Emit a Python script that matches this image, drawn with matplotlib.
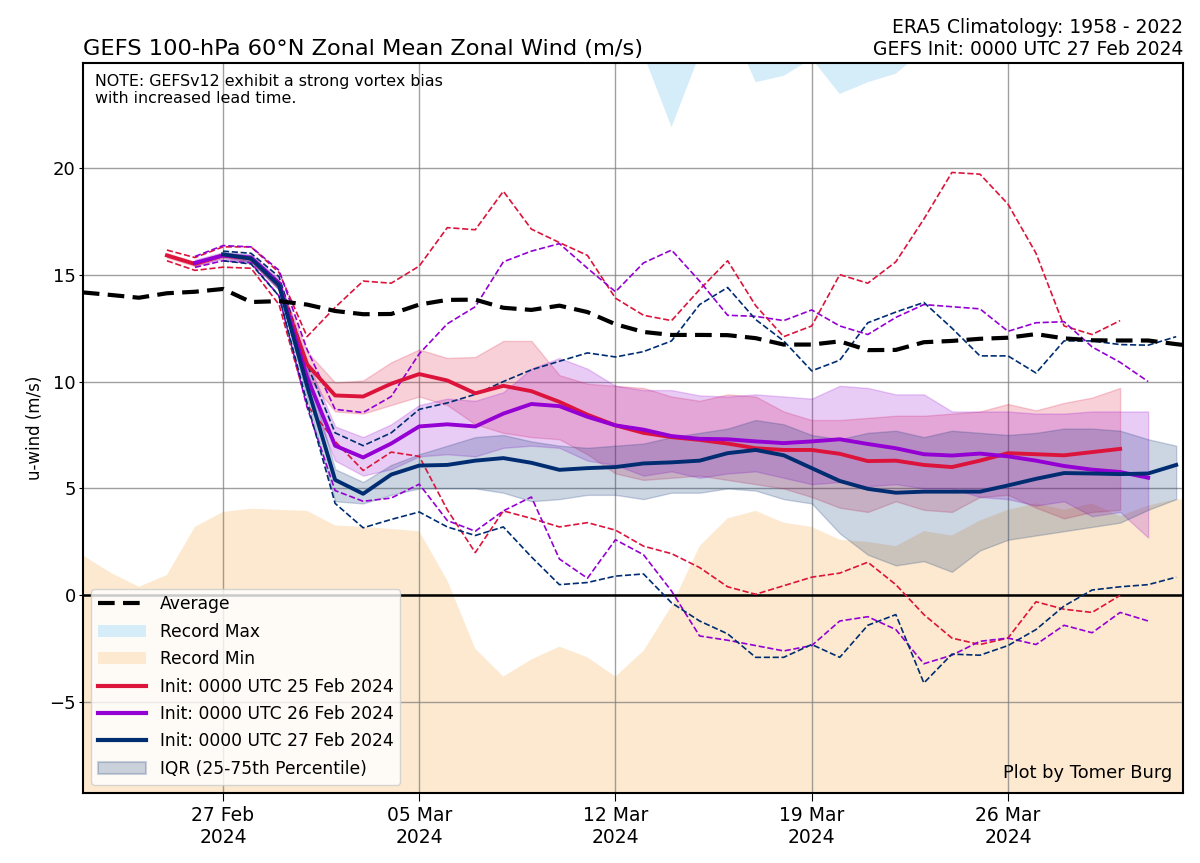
import matplotlib
matplotlib.use("Agg")
import matplotlib.pyplot as plt
import matplotlib.dates as mdates
from matplotlib.lines import Line2D
from matplotlib.patches import Patch
import pandas as pd

# ---- climatology (daily, 22 Feb - 02 Apr) ----
clim_start = "2024-02-22"
clim_avg = [14.17, 14.05, 13.92, 14.13, 14.2, 14.33, 13.72, 13.76,
            13.6, 13.3, 13.15, 13.16, 13.6, 13.82, 13.83, 13.45, 13.35, 13.55,
            13.25, 12.68, 12.32, 12.18, 12.18, 12.17, 12.03, 11.73, 11.73, 11.88,
            11.47, 11.48, 11.84, 11.9, 12.0, 12.05, 12.22, 12.02, 11.93, 11.92,
            11.92, 11.75, 11.6]
rec_min = [1.87, 1.05, 0.4, 0.95, 3.2, 3.9, 4.05, 4.0,
           3.95, 3.27, 3.2, 3.1, 3.0, 0.7, -2.5, -3.8, -3.0, -2.4,
           -2.9, -3.8, -2.6, -0.5, 2.3, 3.6, 3.95, 3.4, 3.2, 2.6,
           2.5, 2.3, 3.0, 2.8, 3.5, 4.0, 4.3, 4.0, 4.3, 3.7,
           4.2, 4.5, 4.4]
rec_max = [28, 28, 28, 28, 28, 28, 28, 28,
           28, 28, 28, 28, 28, 28, 28, 28, 28, 28,
           28, 28, 25.3, 21.9, 25.3, 27, 24.0, 24.3, 25.1, 23.45,
           24.0, 24.4, 25.5, 28, 28, 28, 28, 28, 28, 28,
           28, 28, 28]

# ---- GEFS forecasts (daily, 35 days from init) ----
init_25 = "2024-02-25"
mean_25 = [15.9, 15.5, 15.9, 15.75, 14.5, 10.8, 9.35, 9.3, 9.9, 10.35, 10.05, 9.45,
           9.8, 9.55, 9.05, 8.45, 7.95, 7.6, 7.4, 7.27, 7.1, 6.88, 6.8, 6.8, 6.62,
           6.28, 6.3, 6.1, 6.0, 6.3, 6.65, 6.6, 6.55, 6.7, 6.85]
q75_25 = [16.0, 15.6, 16.0, 15.85, 14.7, 11.4, 9.95, 10.05, 10.9, 11.5, 11.1, 11.15,
          11.9, 11.9, 10.3, 9.9, 9.8, 9.7, 9.3, 9.1, 9.4, 9.3, 8.6, 8.2, 8.2,
          8.3, 8.4, 8.4, 8.5, 8.6, 8.95, 8.65, 9.0, 9.25, 9.7]
q25_25 = [15.8, 15.4, 15.8, 15.6, 14.3, 10.2, 8.6, 8.5, 8.9, 9.3, 8.9, 8.0,
          7.6, 7.4, 7.3, 6.6, 5.7, 5.4, 5.5, 5.6, 5.4, 5.2, 5.0, 4.6, 4.1,
          3.9, 4.4, 4.0, 3.9, 4.6, 4.7, 4.1, 3.6, 3.9, 4.0]
max_25 = [16.15, 15.8, 16.3, 16.3, 15.1, 12.1, 13.47, 14.7, 14.6, 15.4, 17.2, 17.1,
          18.9, 17.13, 16.5, 15.9, 13.9, 13.1, 12.85, 14.3, 15.65, 13.55, 12.1, 12.6, 15.0,
          14.6, 15.6, 17.6, 19.78, 19.7, 18.3, 16.0, 12.6, 12.2, 12.85]
min_25 = [15.65, 15.2, 15.35, 15.3, 13.6, 8.9, 7.2, 5.84, 6.7, 6.5, 4.0, 2.0,
          3.95, 3.6, 3.2, 3.4, 3.05, 2.3, 1.95, 1.3, 0.4, 0.05, 0.45, 0.85, 1.04,
          1.55, 0.5, -0.9, -2.0, -2.3, -2.0, -0.3, -0.65, -0.8, 0.0]

init_26 = "2024-02-26"
mean_26 = [15.55, 15.9, 15.8, 14.6, 10.2, 7.0, 6.45, 7.1, 7.9, 8.0, 7.9, 8.5,
           8.95, 8.85, 8.35, 7.95, 7.75, 7.45, 7.32, 7.3, 7.2, 7.12, 7.2, 7.3, 7.08,
           6.88, 6.6, 6.54, 6.63, 6.5, 6.3, 6.05, 5.88, 5.77, 5.5]
q75_26 = [15.7, 16.05, 15.95, 14.8, 11.0, 7.9, 7.4, 8.0, 8.9, 9.2, 9.1, 9.5,
          10.6, 11.1, 10.6, 9.8, 9.6, 9.6, 9.35, 9.3, 9.4, 9.3, 9.2, 9.8, 9.7,
          9.4, 9.4, 8.6, 8.6, 8.6, 8.5, 8.5, 8.6, 8.6, 8.6]
q25_26 = [15.4, 15.75, 15.6, 14.3, 9.5, 6.3, 5.6, 5.9, 6.5, 6.6, 6.5, 6.9,
          7.0, 6.9, 6.3, 6.1, 5.6, 5.8, 5.5, 5.7, 5.8, 5.5, 5.2, 5.3, 5.1,
          5.2, 5.0, 5.0, 4.6, 4.5, 4.2, 4.4, 3.7, 3.9, 2.7]
max_26 = [15.85, 16.36, 16.3, 15.2, 11.5, 8.7, 8.55, 9.3, 11.3, 12.7, 13.5, 15.6,
          16.1, 16.45, 15.3, 14.2, 15.55, 16.15, 14.7, 13.1, 13.05, 12.85, 13.35, 12.6, 12.2,
          13.0, 13.6, 13.5, 13.4, 12.35, 12.75, 12.8, 11.62, 10.9, 10.0]
min_26 = [15.34, 15.65, 15.55, 14.0, 8.8, 4.9, 4.4, 4.55, 5.2, 3.5, 3.0, 3.95,
          4.6, 1.7, 0.8, 2.6, 1.9, 0.2, -1.9, -2.1, -2.35, -2.6, -2.35, -1.2, -1.0,
          -1.6, -3.2, -2.8, -2.15, -2.0, -2.3, -1.4, -1.75, -0.8, -1.2]

init_27 = "2024-02-27"
mean_27 = [15.95, 15.75, 14.5, 9.8, 5.4, 4.75, 5.65, 6.07, 6.1, 6.3, 6.42, 6.2,
           5.87, 5.95, 6.0, 6.17, 6.22, 6.3, 6.65, 6.8, 6.55, 5.95, 5.35, 4.98, 4.8,
           4.85, 4.85, 4.85, 5.14, 5.45, 5.72, 5.7, 5.67, 5.7, 6.1]
q75_27 = [16.05, 15.9, 14.7, 10.6, 5.9, 5.3, 6.1, 6.6, 7.0, 7.4, 7.5, 7.2,
          7.0, 6.9, 7.0, 7.1, 7.4, 7.6, 7.8, 8.2, 8.0, 7.5, 7.3, 7.6, 7.7,
          7.4, 7.7, 7.6, 7.5, 7.6, 7.8, 7.8, 7.7, 7.3, 7.0]
q25_27 = [15.85, 15.6, 14.3, 9.2, 4.4, 4.3, 4.7, 5.0, 5.0, 5.0, 4.8, 4.4,
          4.5, 4.7, 4.7, 4.5, 4.8, 4.8, 5.0, 4.9, 4.5, 4.3, 2.9, 1.9, 1.4,
          1.6, 1.1, 2.1, 2.6, 2.8, 3.0, 3.2, 3.4, 4.0, 4.5]
max_27 = [16.1, 16.0, 14.9, 10.8, 7.6, 7.0, 7.6, 8.7, 9.0, 9.4, 10.0, 10.55,
          10.95, 11.34, 11.15, 11.4, 11.9, 13.6, 14.4, 12.9, 11.9, 10.5, 11.0, 12.75, 13.25,
          13.7, 12.5, 11.2, 11.2, 10.4, 11.9, 11.9, 11.73, 11.7, 12.1]
min_27 = [15.65, 15.5, 14.0, 9.0, 4.3, 3.16, 3.55, 3.9, 3.2, 2.8, 3.2, 1.8,
          0.5, 0.6, 0.9, 1.0, -0.35, -1.2, -1.8, -2.9, -2.9, -2.3, -2.9, -1.4, -0.9,
          -4.1, -2.75, -2.8, -2.35, -1.6, -0.5, 0.25, 0.4, 0.5, 0.85]

col_25 = "#dc143c"
col_26 = "#9400d3"
col_27 = "#002d72"
col_max = "#d5edf9"
col_min = "#fde9cf"


def plot_forecast(ax, init, mean, q25, q75, vmax, vmin, color):
  # ensemble mean, IQR shading and min/max as thin dashed lines
  dates = pd.date_range(init, periods=len(mean), freq="D")
  ax.fill_between(dates, q25, q75, color=color, alpha=0.2, lw=1, zorder=2)
  ax.plot(dates, vmax, color=color, lw=1.2, ls="--", zorder=3)
  ax.plot(dates, vmin, color=color, lw=1.2, ls="--", zorder=3)
  ax.plot(dates, mean, color=color, lw=2.8, zorder=4)


def main():
  fig = plt.figure(figsize=(12, 8.63), dpi=100)
  ax = fig.add_axes([0.069, 0.081, 0.917, 0.846])

  cdates = pd.date_range(clim_start, periods=len(clim_avg), freq="D")

  # record max / min shading
  ax.fill_between(cdates, rec_max, 100, color=col_max, lw=0, zorder=0)
  ax.fill_between(cdates, -100, rec_min, color=col_min, lw=0, zorder=0)
  ax.axhline(0, color="k", lw=1.8, zorder=1)

  plot_forecast(ax, init_25, mean_25, q25_25, q75_25, max_25, min_25, col_25)
  plot_forecast(ax, init_26, mean_26, q25_26, q75_26, max_26, min_26, col_26)
  plot_forecast(ax, init_27, mean_27, q25_27, q75_27, max_27, min_27, col_27)

  ax.plot(cdates, clim_avg, color="k", lw=3, ls=(0, (4, 2)), zorder=5)

  # axes setup
  ax.set_xlim(pd.Timestamp("2024-02-22"), pd.Timestamp("2024-04-01 06:00"))
  ax.set_ylim(-9.25, 24.9)
  ax.set_yticks([-5, 0, 5, 10, 15, 20])
  ax.xaxis.set_major_locator(mdates.WeekdayLocator(byweekday=mdates.TU))
  ax.xaxis.set_major_formatter(mdates.DateFormatter("%d %b\n%Y"))
  ax.tick_params(axis="x", labelsize=13.5, length=6)
  ax.tick_params(axis="y", labelsize=13, length=3, pad=2)
  ax.set_axisbelow(True)
  ax.grid(True, color="gray", lw=1, alpha=0.75)
  for s in ax.spines.values():
    s.set_linewidth(1.5)
  ax.set_ylabel("u-wind (m/s)", fontsize=12)

  ax.set_title("GEFS 100-hPa 60°N Zonal Mean Zonal Wind (m/s)", loc="left", fontsize=16.2)
  ax.set_title("ERA5 Climatology: 1958 - 2022\nGEFS Init: 0000 UTC 27 Feb 2024",
               loc="right", fontsize=13.5)

  ax.text(0.011, 0.985, "NOTE: GEFSv12 exhibit a strong vortex bias\nwith increased lead time.",
          transform=ax.transAxes, ha="left", va="top", fontsize=11.4, zorder=6)
  ax.text(0.99, 0.015, "Plot by Tomer Burg", transform=ax.transAxes,
          ha="right", va="bottom", fontsize=12.9, zorder=6)

  # legend
  handles = [
    Line2D([], [], color="k", lw=3, ls=(0, (4, 2))),
    Patch(facecolor=col_max),
    Patch(facecolor=col_min),
    Line2D([], [], color=col_25, lw=3),
    Line2D([], [], color=col_26, lw=3),
    Line2D([], [], color=col_27, lw=3),
    Patch(facecolor=col_27, edgecolor=col_27, alpha=0.2, lw=1.5),
  ]
  labels = ["Average", "Record Max", "Record Min",
            "Init: 0000 UTC 25 Feb 2024", "Init: 0000 UTC 26 Feb 2024",
            "Init: 0000 UTC 27 Feb 2024", "IQR (25-75th Percentile)"]
  leg = ax.legend(handles, labels, loc="lower left", fontsize=12.3, framealpha=0.8,
                  handlelength=2.8, labelspacing=0.55)
  leg.set_zorder(7)

  fig.savefig("out.png", dpi=100)
  plt.close()


if __name__ == "__main__":
  main()
